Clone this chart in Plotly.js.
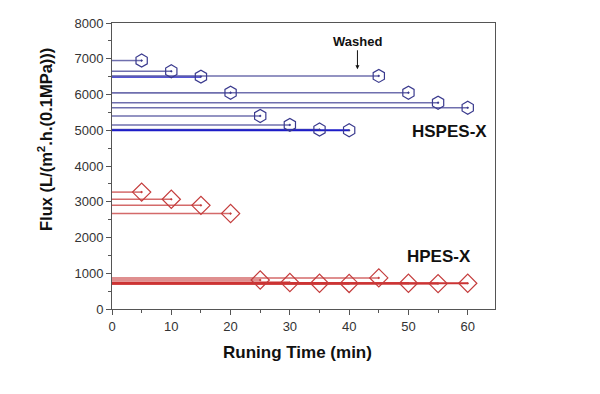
<!DOCTYPE html>
<html>
<head>
<meta charset="utf-8">
<script src="https://cdn.plot.ly/plotly-3.0.1.min.js"></script>
<style>html,body{margin:0;padding:0;background:#fff;}#chart{width:600px;height:394px;}</style>
</head>
<body>
<div id="chart"></div>
<script>
// Running time (min)
const hspesTime = [5, 10, 15, 20, 25, 30, 35, 40, 45, 50, 55, 60];
// HSPES-X flux
const hspesFlux = [6950, 6650, 6500, 6050, 5400, 5150, 5020, 5000, 6520, 6050, 5770, 5630];
const hpesTime = [5, 10, 15, 20, 25, 30, 35, 40, 45, 50, 55, 60];
// HPES-X flux
const hpesFlux = [3270, 3070, 2900, 2670, 810, 740, 720, 715, 870, 720, 710, 720];
const xTicks = [0, 10, 20, 30, 40, 50, 60];
const yTicks = [0, 1000, 2000, 3000, 4000, 5000, 6000, 7000, 8000];

const blueLine = '#6f6fae', blueDark = '#1c1cc8', blueMarker = '#3a3a8e';
const redLine = '#d46a6a', redDark = '#cc3333', redMarker = '#c43c3c';
const hspesDarkIdx = [2, 7];
const hpesDarkIdx = [5, 6, 7, 9, 10, 11];
const FONT = 'Arial, Liberation Sans, sans-serif';

const traces = [];
function addSeries(tx, fy, lc, dc, darkIdx, mc, sym, size) {
  for (let i = 0; i < tx.length; i++) {
    const dark = darkIdx.indexOf(i) >= 0;
    traces.push({
      x: [0, tx[i]], y: [fy[i], fy[i]], mode: 'lines', type: 'scatter',
      line: {color: dark ? dc : lc, width: dark ? 2 : 1.5},
      hoverinfo: 'skip', showlegend: false
    });
  }
  traces.push({
    x: tx, y: fy, mode: 'markers', type: 'scatter', showlegend: false,
    marker: {symbol: sym, size: size, color: mc, line: {color: mc, width: 1.2}}
  });
}
addSeries(hspesTime, hspesFlux, blueLine, blueDark, hspesDarkIdx, blueMarker, 'hexagon-open-dot', 13);
addSeries(hpesTime, hpesFlux, redLine, redDark, hpesDarkIdx, redMarker, 'diamond-open-dot', 14);

const axisCommon = {
  showgrid: false, zeroline: false, showline: true, linecolor: '#555', linewidth: 1,
  mirror: true, ticks: 'outside', ticklen: 5, tickwidth: 1, tickcolor: '#555',
  tickfont: {family: FONT, size: 13, color: '#333'},
  minor: {ticks: 'outside', ticklen: 3, tickcolor: '#555', showgrid: false}
};

const layout = {
  width: 600, height: 394,
  margin: {l: 112, r: 105, t: 23, b: 85},
  paper_bgcolor: '#fff', plot_bgcolor: '#fff',
  xaxis: Object.assign({}, axisCommon, {
    range: [0, 64.6], tickvals: xTicks, ticktext: xTicks.map(String),
    minor: Object.assign({}, axisCommon.minor, {dtick: 5, tick0: 0})
  }),
  yaxis: Object.assign({}, axisCommon, {
    range: [0, 8000], tickvals: yTicks, ticktext: yTicks.map(String),
    minor: Object.assign({}, axisCommon.minor, {dtick: 500, tick0: 0})
  }),
  annotations: [
    {x: 297, y: 352, xref: 'paper', yref: 'paper', text: '<b>Runing Time (min)</b>', showarrow: false,
     xanchor: 'center', yanchor: 'middle',
     font: {family: FONT, size: 17, color: '#111'}},
    {x: 45, y: 140, xref: 'paper', yref: 'paper', text: '<b>Flux (L/(m<sup>2</sup>.h.(0.1MPa)))</b>', showarrow: false,
     textangle: -90, xanchor: 'center', yanchor: 'middle',
     font: {family: FONT, size: 16.5, color: '#111'}},
    {x: 41.4, y: 6650, xref: 'x', yref: 'y', text: '<b>Washed</b>', showarrow: true,
     ax: 0, ay: -30, arrowhead: 2, arrowsize: 0.8, arrowwidth: 1, arrowcolor: '#111', standoff: 2,
     font: {family: FONT, size: 13, color: '#111'}},
    {x: 57, y: 4960, xref: 'x', yref: 'y', text: '<b>HSPES-X</b>', showarrow: false,
     font: {family: FONT, size: 17, color: '#111'}},
    {x: 55.2, y: 1476, xref: 'x', yref: 'y', text: '<b>HPES-X</b>', showarrow: false,
     font: {family: FONT, size: 17, color: '#111'}}
  ]
};

// convert pixel positions of the axis titles to paper coordinates
const pw = 600 - 112 - 105, ph = 394 - 23 - 85;
layout.annotations[0].x = (297 - 112) / pw; layout.annotations[0].y = 1 - (352 - 23) / ph;
layout.annotations[1].x = (45 - 112) / pw; layout.annotations[1].y = 1 - (140 - 23) / ph;

Plotly.newPlot('chart', traces, layout, {displayModeBar: false, staticPlot: true});
</script>
</body>
</html>
